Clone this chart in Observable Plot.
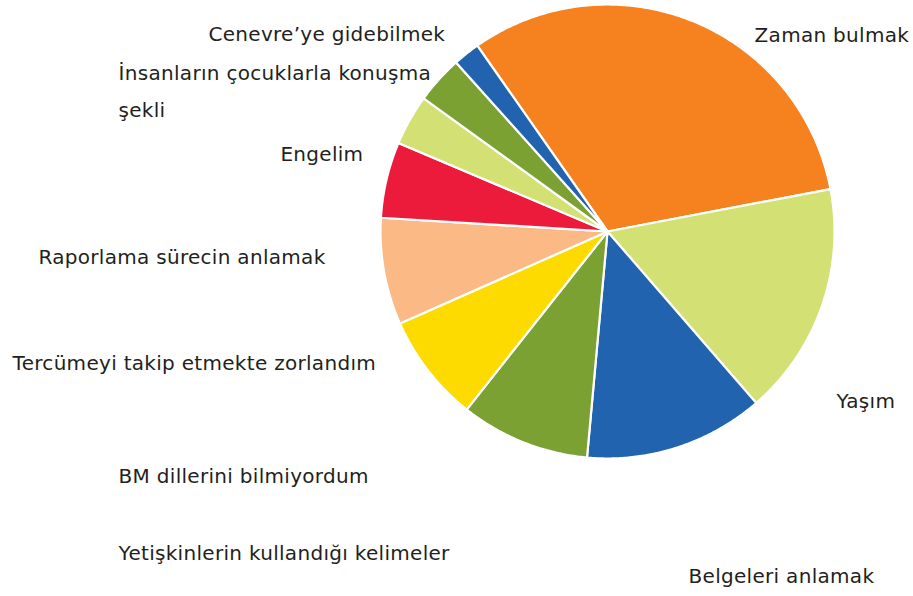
<!DOCTYPE html>
<html>
<head>
<meta charset="utf-8">
<script src="https://cdn.jsdelivr.net/npm/d3@7"></script>
<script src="https://cdn.jsdelivr.net/npm/@observablehq/plot@0.6"></script>
<style>
  html, body { margin: 0; padding: 0; background: #ffffff; }
  #chart svg { display: block; }
</style>
</head>
<body>
<div id="chart"></div>
<script>
// ---- data ----
const categories = [
  "Zaman bulmak",
  "Yaşım",
  "Belgeleri anlamak",
  "Yetişkinlerin kullandığı kelimeler",
  "BM dillerini bilmiyordum",
  "Tercümeyi takip etmekte zorlandım",
  "Raporlama sürecin anlamak",
  "Engelim",
  "İnsanların çocuklarla konuşma\nşekli",
  "Cenevre’ye gidebilmek"
];
const values = [31.7, 16.6, 12.8, 9.2, 7.7, 7.6, 5.4, 3.6, 3.4, 1.9];

// ---- styles / layout ----
const sliceColors = ["#f5821f", "#d3e073", "#2163ae", "#7aa132", "#fedb00",
                     "#fbba85", "#ed1b3b", "#d3e073", "#7aa132", "#2163ae"];
const startDeg = -35;
// label anchor points (left edge, vertical middle) in pie-radius units relative to the centre
const labelX = [0.648, 1.009, 0.357, -2.154, -2.154, -2.621, -2.507, -1.441, -2.154, -1.758];
const labelY = [0.886, -0.727, -1.498, -1.396, -1.057, -0.559, -0.092, 0.361, 0.640, 0.890];

const W = 913, H = 596, cx = 607, cy = 231, R = 227;

const pie = d3.pie().sort(null)
  .startAngle(startDeg * Math.PI / 180)
  .endAngle(startDeg * Math.PI / 180 + 2 * Math.PI);
const arcs = pie(values);

const pts = [];
arcs.forEach((a, i) => {
  const key = categories[i];
  pts.push({k: key, i, x: 0, y: 0, c: sliceColors[i]});
  const n = Math.max(2, Math.ceil((a.endAngle - a.startAngle) / (Math.PI / 360)));
  for (let j = 0; j <= n; j++) {
    const t = a.startAngle + (a.endAngle - a.startAngle) * j / n;
    pts.push({k: key, i, x: Math.sin(t), y: Math.cos(t), c: sliceColors[i]});
  }
});

const labels = categories.map((t, i) => ({text: t, x: labelX[i], y: labelY[i]}));

const chart = Plot.plot({
  width: W,
  height: H,
  margin: 0,
  x: {domain: [-cx / R, (W - cx) / R], range: [0, W], axis: null},
  y: {domain: [(cy - H) / R, cy / R], range: [H, 0], axis: null},
  color: {type: "identity"},
  style: {fontFamily: "'DejaVu Sans', sans-serif", background: "#ffffff", letterSpacing: "0.3px"},
  marks: [
    Plot.line(pts, {
      x: "x", y: "y", z: "k", fill: "c",
      stroke: "#ffffff", strokeWidth: 2.2, strokeLinejoin: "round",
      curve: "linear-closed"
    }),
    Plot.text(labels, {
      x: "x", y: "y", text: "text",
      textAnchor: "start", lineAnchor: "middle",
      fontSize: 20, lineHeight: 1.85, fill: "#231f20"
    })
  ]
});
document.getElementById("chart").appendChild(chart);
</script>
</body>
</html>
